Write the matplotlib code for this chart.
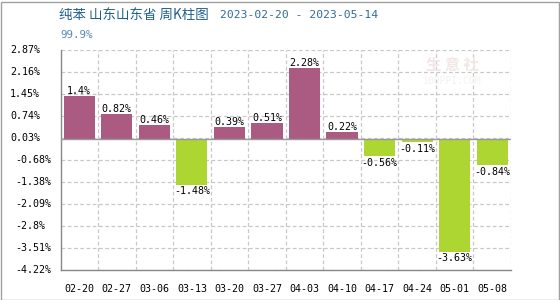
import matplotlib
matplotlib.use("Agg")
import matplotlib.pyplot as plt
import matplotlib.transforms as mtransforms
import numpy as np
from matplotlib.patches import Rectangle

categories = ["02-20", "02-27", "03-06", "03-13", "03-20", "03-27",
              "04-03", "04-10", "04-17", "04-24", "05-01", "05-08"]
values = [1.4, 0.82, 0.46, -1.48, 0.39, 0.51, 2.28, 0.22, -0.56, -0.11, -3.63, -0.84]
value_labels = ["1.4%", "0.82%", "0.46%", "-1.48%", "0.39%", "0.51%",
                "2.28%", "0.22%", "-0.56%", "-0.11%", "-3.63%", "-0.84%"]
yticks = [2.87, 2.16, 1.45, 0.74, 0.03, -0.68, -1.38, -2.09, -2.8, -3.51, -4.22]
ytick_labels = ["2.87%", "2.16%", "1.45%", "0.74%", "0.03%", "-0.68%",
                "-1.38%", "-2.09%", "-2.8%", "-3.51%", "-4.22%"]
title_cn = "纯苯 山东山东省 周K柱图"
title_dates = "2023-02-20 - 2023-05-14"
subtitle = "99.9%"

POS = "#AB5A82"
NEG = "#ADD632"
MONO = ["DejaVu Sans Mono"]
CJK = ["Noto Sans CJK SC", "DejaVu Sans"]
FS = 7.2

W, H = 560, 300
fig = plt.figure(figsize=(W / 100, H / 100), dpi=100)
ax = fig.add_axes([60.5 / W, 1 - 270 / H, 450.5 / W, 220 / H])

x = np.arange(len(categories))
colors = [POS if v >= 0 else NEG for v in values]
ax.bar(x, values, width=0.83, color=colors, zorder=3)

ax.set_xlim(-0.5, len(categories) - 0.5)
ax.set_ylim(min(yticks), max(yticks))
ax.set_yticks(yticks)
ax.set_yticklabels([])
ax.set_xticks(x)
ax.set_xticklabels(categories, fontfamily=MONO, fontsize=FS)
ax.tick_params(axis="both", length=0)
ax.tick_params(axis="x", pad=10)

# y tick labels placed left-aligned like the reference
blend = mtransforms.blended_transform_factory(fig.transFigure, ax.transData)
for t, lab in zip(yticks, ytick_labels):
    xpos = 15 / W if lab.startswith("-") else 10 / W
    ax.text(xpos, t, lab, transform=blend, ha="left", va="center",
            fontfamily=MONO, fontsize=FS, clip_on=False)

# grid: vertical at category boundaries, horizontal at ticks
for b in np.arange(0.5, len(categories), 1.0):
    ax.axvline(b, color="#C8C8C8", lw=0.9, ls=(0, (3, 2)), zorder=1)
for t in yticks:
    ax.axhline(t, color="#C8C8C8", lw=0.9, ls=(0, (3, 2)), zorder=1)
ax.axhline(0, color="#999999", lw=1.0, zorder=4)

for s in ["top", "right"]:
    ax.spines[s].set_visible(False)
for s in ["left", "bottom"]:
    ax.spines[s].set_color("#888888")
    ax.spines[s].set_linewidth(1.0)

for xi, v, lab in zip(x, values, value_labels):
    if v >= 0:
        ax.annotate(lab, (xi, v), xytext=(0, 0), textcoords="offset points",
                    ha="center", va="bottom", fontfamily=MONO, fontsize=FS, zorder=5)
    else:
        ax.annotate(lab, (xi, v), xytext=(0, -1), textcoords="offset points",
                    ha="center", va="top", fontfamily=MONO, fontsize=FS, zorder=5)

# watermark
fig.text(452 / W, 1 - 65 / H, "生 意 社", fontfamily=CJK, fontsize=11,
         color="#F3E6E6", ha="center", va="center", fontweight="bold")
fig.text(452 / W, 1 - 81 / H, "100PPI.COM", fontfamily=MONO, fontsize=7,
         color="#F2F2F2", ha="center", va="center")

# titles
fig.text(59 / W, 1 - 15 / H, title_cn, fontfamily=CJK, fontsize=9.7,
         color="#1F5F8F", ha="left", va="center")
fig.text(220 / W, 1 - 15 / H, title_dates, fontfamily=MONO, fontsize=8.2,
         color="#2F6A98", ha="left", va="center")
fig.text(60 / W, 1 - 35 / H, subtitle, fontfamily=MONO, fontsize=7.8,
         color="#5A88B0", ha="left", va="center")

# border
fig.patches.append(Rectangle((0.5 / W, 0.5 / H), (W - 2) / W, (H - 2) / H,
                             transform=fig.transFigure, fill=False,
                             edgecolor="#A0A0A0", lw=1.0))

fig.savefig("out.png", dpi=100)
